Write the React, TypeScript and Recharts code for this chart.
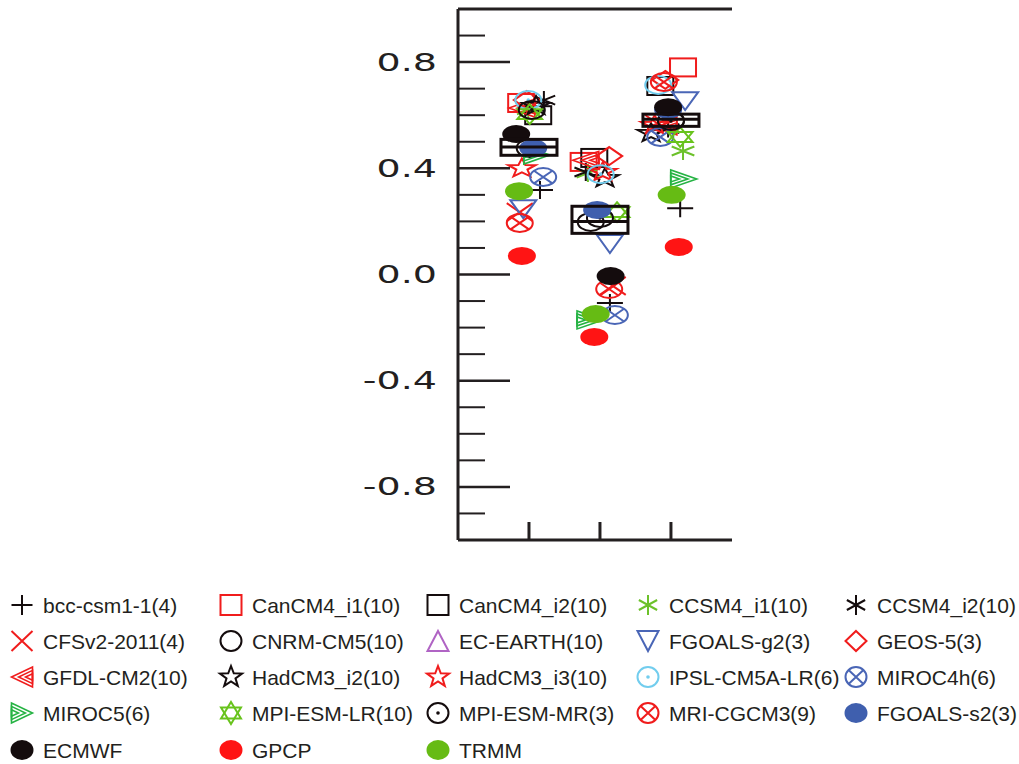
import React from 'react'
import { ScatterChart, Scatter, XAxis, YAxis, ReferenceLine, Legend } from 'recharts'

const INK = '#231f20'
const BLACK = '#140c0d'
const RED = '#f01c1c'
const BLUE = '#4a66b6'
const GREEN = '#6cc12a'

type Pt = [number, number]

// x = category (1, 2, 3) plus the small sideways offset used in the figure
const categories = [1, 2, 3]
const yMajorTicks = [-0.8, -0.4, 0, 0.4, 0.8]
const yAllTicks = [-0.9, -0.8, -0.7, -0.6, -0.5, -0.4, -0.3, -0.2, -0.1, 0, 0.1, 0.2, 0.3, 0.4, 0.5, 0.6, 0.7, 0.8, 0.9]

const bccCsm11: Pt[] = [[1.155, 0.318], [2.14, -0.107], [3.13, 0.25]]
const canCm4I1: Pt[] = [[0.89, 0.646], [1.77, 0.424], [3.17, 0.78]]
const canCm4I2: Pt[] = [[1.13, 0.6], [1.92, 0.439], [2.85, 0.71]]
const ccsm4I1: Pt[] = [[0.99, 0.62], [1.83, 0.382], [3.17, 0.465]]
const ccsm4I2: Pt[] = [[1.21, 0.657], [1.8, 0.386], [2.96, 0.55]]
const cfsv2: Pt[] = [[0.87, 0.235], [2.18, -0.043], [2.82, 0.567]]
const cnrmCm5: Pt[] = [[1.01, 0.476], [1.87, 0.198], [3.0, 0.58]]
const ecEarth: Pt[] = []
const fgoalsG2: Pt[] = [[0.92, 0.246], [2.14, 0.115], [3.2, 0.653]]
const geos5: Pt[] = [[0.97, 0.657], [2.13, 0.446], [2.92, 0.733]]
const gfdlCm2: Pt[] = [[0.9, 0.627], [1.8, 0.43], [2.9, 0.56]]
const hadCm3I2: Pt[] = [[1.1, 0.635], [2.07, 0.363], [2.72, 0.533]]
const hadCm3I3: Pt[] = [[0.9, 0.4], [2.04, 0.386], [2.77, 0.563]]
const ipsl: Pt[] = [[0.99, 0.657], [2.01, 0.378], [2.82, 0.714]]
const miroc4h: Pt[] = [[1.2, 0.367], [2.21, -0.153], [2.85, 0.518]]
const miroc5: Pt[] = [[1.11, 0.45], [1.86, -0.171], [3.18, 0.36]]
const mpiLr: Pt[] = [[1.01, 0.604], [2.24, 0.235], [3.13, 0.518]]
const mpiMr: Pt[] = [[1.04, 0.62], [2.0, 0.213], [3.0, 0.578]]
const mriCgcm3: Pt[] = [[0.87, 0.194], [2.13, -0.055], [2.9, 0.725]]
const fgoalsS2: Pt[] = [[1.06, 0.476], [1.96, 0.243], [2.96, 0.62]]
const ecmwf: Pt[] = [[0.82, 0.529], [2.15, -0.006], [2.96, 0.63]]
const gpcp: Pt[] = [[0.9, 0.07], [1.92, -0.235], [3.11, 0.104]]
const trmm: Pt[] = [[0.86, 0.314], [1.94, -0.149], [3.01, 0.3]]

// ensemble box per category: low / middle line / high
const boxLow = [0.449, 0.155, 0.558]
const boxMid = [0.48, 0.2, 0.585]
const boxHigh = [0.509, 0.257, 0.604]

const SERIES = [
  { name: 'bcc-csm1-1(4)', kind: 'plus', color: BLACK, pts: bccCsm11 },
  { name: 'CanCM4_i1(10)', kind: 'square', color: RED, pts: canCm4I1 },
  { name: 'CanCM4_i2(10)', kind: 'square', color: BLACK, pts: canCm4I2 },
  { name: 'CCSM4_i1(10)', kind: 'asterisk', color: GREEN, pts: ccsm4I1 },
  { name: 'CCSM4_i2(10)', kind: 'asterisk', color: BLACK, pts: ccsm4I2 },
  { name: 'CFSv2-2011(4)', kind: 'cross', color: RED, pts: cfsv2 },
  { name: 'CNRM-CM5(10)', kind: 'circle', color: BLACK, pts: cnrmCm5 },
  { name: 'EC-EARTH(10)', kind: 'triUp', color: '#b064c4', pts: ecEarth },
  { name: 'FGOALS-g2(3)', kind: 'triDown', color: BLUE, pts: fgoalsG2 },
  { name: 'GEOS-5(3)', kind: 'diamond', color: RED, pts: geos5 },
  { name: 'GFDL-CM2(10)', kind: 'triLeft', color: RED, pts: gfdlCm2 },
  { name: 'HadCM3_i2(10)', kind: 'star', color: BLACK, pts: hadCm3I2 },
  { name: 'HadCM3_i3(10)', kind: 'star', color: RED, pts: hadCm3I3 },
  { name: 'IPSL-CM5A-LR(6)', kind: 'circleDot', color: '#72cdee', pts: ipsl },
  { name: 'MIROC4h(6)', kind: 'circleX', color: BLUE, pts: miroc4h },
  { name: 'MIROC5(6)', kind: 'triRight', color: '#25b343', pts: miroc5 },
  { name: 'MPI-ESM-LR(10)', kind: 'hexagram', color: '#68c31c', pts: mpiLr },
  { name: 'MPI-ESM-MR(3)', kind: 'circleDot', color: BLACK, pts: mpiMr },
  { name: 'MRI-CGCM3(9)', kind: 'circleX', color: RED, pts: mriCgcm3 },
  { name: 'FGOALS-s2(3)', kind: 'dot', color: '#3f5fae', pts: fgoalsS2 },
  { name: 'ECMWF', kind: 'dot', color: BLACK, pts: ecmwf },
  { name: 'GPCP', kind: 'dot', color: '#ff1414', pts: gpcp },
  { name: 'TRMM', kind: 'dot', color: '#66bb14', pts: trmm },
]

const W = 1019
const H = 764
const PLOT = { left: 458, right: 732, top: 9, bottom: 540 }
const Y_DOMAIN: [number, number] = [-1, 1]
const X_DOMAIN: [number, number] = [0, 3.86]
const PX_PER_UNIT = (PLOT.bottom - PLOT.top) / (Y_DOMAIN[1] - Y_DOMAIN[0])
const Y_AXIS_W = 80

const toData = (pts: Pt[]) => pts.map(([x, y]) => ({ x, y }))
const boxData = categories.map((c, i) => ({ x: c, y: boxMid[i], lo: boxLow[i], hi: boxHigh[i] }))

function Marker({ kind, cx, cy, hw, hh, color }: any) {
  const line = { stroke: color, strokeWidth: 2, fill: 'none' }
  const poly = (p: number[][]) => p.map((q) => q.join(',')).join(' ')
  switch (kind) {
    case 'plus':
      return <path d={`M${cx - hw},${cy}H${cx + hw}M${cx},${cy - hh}V${cy + hh}`} {...line} />
    case 'square':
      return <rect x={cx - hw} y={cy - hh} width={2 * hw} height={2 * hh} {...line} />
    case 'cross':
      return <path d={`M${cx - hw},${cy - hh}L${cx + hw},${cy + hh}M${cx - hw},${cy + hh}L${cx + hw},${cy - hh}`} {...line} />
    case 'circle':
      return <ellipse cx={cx} cy={cy} rx={hw} ry={hh} {...line} />
    case 'triUp':
      return <polygon points={poly([[cx, cy - hh], [cx + hw, cy + hh], [cx - hw, cy + hh]])} {...line} />
    case 'triDown':
      return <polygon points={poly([[cx - hw, cy - hh], [cx + hw, cy - hh], [cx, cy + hh]])} {...line} />
    case 'diamond':
      return <polygon points={poly([[cx, cy - hh], [cx + hw, cy], [cx, cy + hh], [cx - hw, cy]])} {...line} />
    case 'triLeft':
    case 'triRight': {
      const d = kind === 'triLeft' ? 1 : -1
      return (
        <g>
          {[1, 0.66, 0.33].map((s) => (
            <polygon
              key={s}
              points={poly([
                [cx + d * hw, cy - hh * s],
                [cx + d * hw, cy + hh * s],
                [cx + d * hw - d * 2 * hw * s, cy],
              ])}
              {...line}
              strokeWidth={1.6}
            />
          ))}
        </g>
      )
    }
    case 'star': {
      const p = []
      for (let i = 0; i < 10; i++) {
        const a = (-90 + i * 36) * Math.PI / 180
        const r = i % 2 === 0 ? 1.1 : 0.45
        p.push([cx + hw * r * Math.cos(a), cy + hh * r * Math.sin(a)])
      }
      return <polygon points={poly(p)} {...line} />
    }
    case 'hexagram':
      return (
        <g>
          <polygon points={poly([[cx, cy - hh * 1.1], [cx + hw * 0.95, cy + hh * 0.55], [cx - hw * 0.95, cy + hh * 0.55]])} {...line} />
          <polygon points={poly([[cx, cy + hh * 1.1], [cx + hw * 0.95, cy - hh * 0.55], [cx - hw * 0.95, cy - hh * 0.55]])} {...line} />
        </g>
      )
    case 'asterisk':
      return (
        <path
          d={`M${cx},${cy - hh}V${cy + hh}M${cx - hw * 0.87},${cy - hh * 0.5}L${cx + hw * 0.87},${cy + hh * 0.5}M${cx - hw * 0.87},${cy + hh * 0.5}L${cx + hw * 0.87},${cy - hh * 0.5}`}
          {...line}
        />
      )
    case 'circleDot':
      return (
        <g>
          <ellipse cx={cx} cy={cy} rx={hw} ry={hh} {...line} />
          <circle cx={cx} cy={cy} r={1.8} fill={color} />
        </g>
      )
    case 'circleX': {
      const k = 0.707
      return (
        <g>
          <ellipse cx={cx} cy={cy} rx={hw} ry={hh} {...line} />
          <path d={`M${cx - hw * k},${cy - hh * k}L${cx + hw * k},${cy + hh * k}M${cx - hw * k},${cy + hh * k}L${cx + hw * k},${cy - hh * k}`} {...line} />
        </g>
      )
    }
    case 'dot':
      return <ellipse cx={cx} cy={cy} rx={hw + 1} ry={hh} fill={color} />
    default:
      return null
  }
}

const EnsembleBox = (props: any) => {
  const { cx, cy, payload } = props
  const top = cy - (payload.hi - payload.y) * PX_PER_UNIT
  const bottom = cy + (payload.y - payload.lo) * PX_PER_UNIT
  return (
    <g stroke={BLACK} strokeWidth={3} fill="none">
      <rect x={cx - 28} y={top} width={56} height={bottom - top} />
      <line x1={cx - 28} x2={cx + 28} y1={cy} y2={cy} />
    </g>
  )
}

const YLabel = ({ x, y, payload }: any) => (
  <text
    x={0}
    y={0}
    transform={`translate(${x},${y}) scale(1.52,1)`}
    textAnchor="end"
    dominantBaseline="central"
    fontFamily="DejaVu Sans"
    fontSize={25}
    fill={INK}
  >
    {Number(payload.value).toFixed(1)}
  </text>
)

// inner tick marks: long at the labelled values, short in between
const InnerTick = ({ x, y, payload }: any) => {
  const major = yMajorTicks.some((v) => Math.abs(v - payload.value) < 1e-6)
  return (
    <line
      x1={x}
      x2={x + (major ? 52 : 27)}
      y1={y}
      y2={y}
      stroke={INK}
      strokeWidth={major ? 2.5 : 2}
    />
  )
}

const NoLabel = () => <g />

const legendCols = [22, 231, 438, 648, 856]
const legendRows = [605, 641, 677, 713, 750]
const LEGEND_TOP = 580

const renderLegend = () => (
  <svg width={W} height={H - LEGEND_TOP} style={{ display: 'block' }}>
    {SERIES.map((s, i) => {
      const mx = legendCols[i % 5]
      const my = legendRows[Math.floor(i / 5)] - LEGEND_TOP
      return (
        <g key={s.name}>
          <Marker kind={s.kind} cx={mx} cy={my} hw={10.5} hh={10} color={s.color} />
          <text x={mx + 21} y={my} dominantBaseline="central" fontFamily="Liberation Sans" fontSize={21} fill={INK}>
            {s.name}
          </text>
        </g>
      )
    })}
  </svg>
)

export default function App() {
  return (
    <div style={{ position: 'absolute', left: 0, top: 0, width: W, height: H, background: '#fff' }}>
      <ScatterChart
        width={W}
        height={H}
        margin={{ left: PLOT.left - Y_AXIS_W, right: W - PLOT.right, top: PLOT.top, bottom: H - PLOT.bottom }}
      >
        <XAxis
          type="number"
          dataKey="x"
          domain={X_DOMAIN}
          ticks={categories}
          allowDataOverflow
          mirror
          tickSize={18}
          tick={NoLabel}
          axisLine={{ stroke: INK, strokeWidth: 3 }}
          tickLine={{ stroke: INK, strokeWidth: 3 }}
        />
        <YAxis
          type="number"
          dataKey="y"
          domain={Y_DOMAIN}
          ticks={yMajorTicks}
          allowDataOverflow
          width={Y_AXIS_W}
          tickSize={0}
          tickMargin={21}
          tickLine={false}
          tick={YLabel}
          axisLine={{ stroke: INK, strokeWidth: 3 }}
        />
        <YAxis
          yAxisId="inner"
          type="number"
          domain={Y_DOMAIN}
          ticks={yAllTicks}
          allowDataOverflow
          mirror
          tickSize={0}
          tickMargin={0}
          tickLine={false}
          tick={InnerTick}
          axisLine={false}
        />
        <ReferenceLine y={1} stroke={INK} strokeWidth={3} />
        {SERIES.map((s) => (
          <Scatter
            key={s.name}
            name={s.name}
            data={toData(s.pts)}
            isAnimationActive={false}
            shape={(p: any) => <Marker kind={s.kind} cx={p.cx} cy={p.cy} hw={13} hh={9} color={s.color} />}
          />
        ))}
        <Scatter name="box" data={boxData} isAnimationActive={false} shape={EnsembleBox} legendType="none" />
        <Legend
          layout="horizontal"
          verticalAlign="middle"
          align="center"
          content={renderLegend}
          wrapperStyle={{ left: 0, top: LEGEND_TOP, width: W, height: H - LEGEND_TOP }}
        />
      </ScatterChart>
    </div>
  )
}
